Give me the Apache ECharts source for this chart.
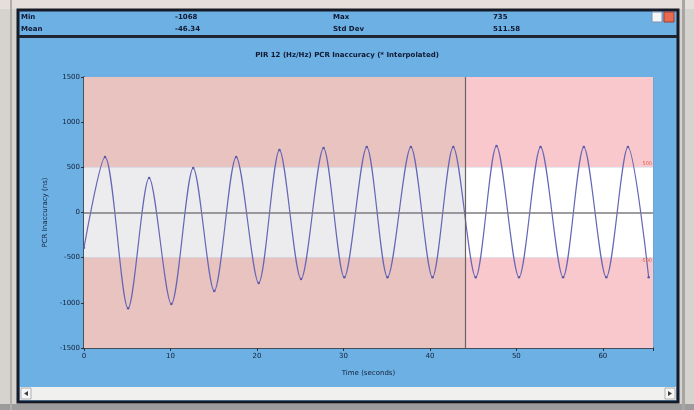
<!DOCTYPE html>
<html><head><meta charset="utf-8">
<script src="https://cdn.jsdelivr.net/npm/echarts@6/dist/echarts.min.js"></script>
<style>html,body{margin:0;padding:0;background:#d6d2ce;}#c{width:694px;height:410px;}</style>
</head><body><div id="c"></div>
<script>
// ---- data ----
const times  = [0, 2.43, 5.1, 7.53, 10.1, 12.63, 15.06, 17.6, 20.2, 22.6, 25.1, 27.7, 30.1, 32.7, 35.1, 37.8, 40.3, 42.7, 45.3, 47.7, 50.3, 52.8, 55.4, 57.8, 60.4, 62.9, 65.3];
const values = [-390, 614, -1060, 382, -1012, 492, -868, 614, -780, 691, -736, 713, -718, 724, -716, 724, -716, 724, -716, 735, -716, 724, -716, 724, -716, 724, -716];
const xTicks = [0, 10, 20, 30, 40, 50, 60];
const yTicks = [-1500, -1000, -500, 0, 500, 1000, 1500];
const upperLimit = 500, lowerLimit = -500;
const splitTime = 44.1;
const xMax = 65.8;
const stats = [["Min", "-1068", "Max", "735"], ["Mean", "-46.34", "Std Dev", "511.58"]];
const title = "PIR 12 (Hz/Hz) PCR Inaccuracy (* Interpolated)";

const chart = echarts.init(document.getElementById('c'), null, {renderer: 'canvas'});
const FONT = 'DejaVu Sans';
const graphics = [
  {type:'rect', shape:{x:0,y:0,width:694,height:9}, style:{fill:'#e6dedb'}, z:-10},
  {type:'rect', shape:{x:0,y:404,width:694,height:6}, style:{fill:'#9c9c9c'}, z:-10},
  {type:'rect', shape:{x:10,y:0,width:2,height:410}, style:{fill:'#b0aeac'}, z:-10},
  {type:'rect', shape:{x:682,y:0,width:3,height:410}, style:{fill:'#a8a6a4'}, z:-10},
  {type:'rect', shape:{x:18,y:10,width:660,height:392}, style:{fill:'#6cb0e4', stroke:'#161a26', lineWidth:3}, z:-9},
  {type:'rect', shape:{x:19,y:35,width:658,height:3}, style:{fill:'#1e2430'}, z:-8},
  {type:'rect', shape:{x:20,y:387,width:656,height:13}, style:{fill:'#f0f0ef'}, z:-8},
  {type:'rect', shape:{x:21,y:388,width:10,height:11}, style:{fill:'#f6f6f6', stroke:'#b0b0b0', lineWidth:1}, z:-7},
  {type:'rect', shape:{x:665,y:388,width:10,height:11}, style:{fill:'#f6f6f6', stroke:'#b0b0b0', lineWidth:1}, z:-7},
  {type:'polygon', shape:{points:[[28,391],[28,396],[24,393.5]]}, style:{fill:'#404040'}, z:-6},
  {type:'polygon', shape:{points:[[668,391],[668,396],[672,393.5]]}, style:{fill:'#404040'}, z:-6},
  {type:'rect', shape:{x:652,y:12,width:10,height:10}, style:{fill:'#f4f6fa', stroke:'#8090a8', lineWidth:1}, z:-7},
  {type:'rect', shape:{x:664,y:12,width:10,height:10}, style:{fill:'#e86a50', stroke:'#a04030', lineWidth:1}, z:-7},
  {type:'text', style:{text:title, x:347, y:55, textAlign:'center', textVerticalAlign:'middle', font:'bold 7px '+FONT, fill:'#101830'}, z:5}
];
const cols = [21, 175, 333, 493];
stats.forEach((row, r) => {
  row.forEach((t, c) => {
    graphics.push({type:'text', style:{text:t, x:cols[c], y:17 + r*12, textVerticalAlign:'middle', font:'bold 7px '+FONT, fill:'#101830'}, z:5});
  });
});

const bandArea = [
  [{xAxis:0, yAxis:upperLimit, itemStyle:{color:'#e9c3c0'}}, {xAxis:splitTime, yAxis:1500}],
  [{xAxis:0, yAxis:lowerLimit, itemStyle:{color:'#ececee'}}, {xAxis:splitTime, yAxis:upperLimit}],
  [{xAxis:0, yAxis:-1500, itemStyle:{color:'#e9c3c0'}}, {xAxis:splitTime, yAxis:lowerLimit}],
  [{xAxis:splitTime, yAxis:upperLimit, itemStyle:{color:'#f8c8cc'}}, {xAxis:xMax, yAxis:1500}],
  [{xAxis:splitTime, yAxis:lowerLimit, itemStyle:{color:'#ffffff'}}, {xAxis:xMax, yAxis:upperLimit}],
  [{xAxis:splitTime, yAxis:-1500, itemStyle:{color:'#f8c8cc'}}, {xAxis:xMax, yAxis:lowerLimit}]
];

chart.setOption({
  animation: false,
  backgroundColor: 'transparent',
  textStyle: {fontFamily: FONT},
  graphic: graphics,
  grid: {left: 84, right: 41, top: 77, bottom: 62, show: false},
  xAxis: {
    type: 'value', min: 0, max: xMax, interval: 10,
    name: 'Time (seconds)', nameLocation: 'middle', nameGap: 22,
    nameTextStyle: {fontSize: 7, color: '#14203a'},
    axisLine: {show: true, onZero: false, lineStyle: {color: '#303438', width: 1.5}},
    axisTick: {show: true, length: 3, lineStyle: {color: '#303438'}},
    axisLabel: {fontSize: 7, color: '#14203a', margin: 5, formatter: v => xTicks.includes(v) ? String(v) : ''},
    splitLine: {show: true, lineStyle: {color: 'rgba(150,110,110,0.18)', width: 1}}
  },
  yAxis: {
    type: 'value', min: -1500, max: 1500, interval: 500,
    name: 'PCR Inaccuracy (ns)', nameLocation: 'middle', nameGap: 28, nameRotate: 90,
    nameTextStyle: {fontSize: 7, color: '#14203a'},
    axisLine: {show: true, lineStyle: {color: '#303438', width: 1.5}},
    axisTick: {show: true, length: 3, lineStyle: {color: '#303438'}},
    axisLabel: {fontSize: 7, color: '#14203a', margin: 4, formatter: v => yTicks.includes(v) ? String(v) : ''},
    splitLine: {show: true, lineStyle: {color: 'rgba(150,110,110,0.22)', width: 1}}
  },
  series: [
    {
      type: 'line', name: 'bands', z: -1, data: [], silent: true,
      markArea: {silent: true, data: bandArea},
      markLine: {
        silent: true, symbol: 'none',
        data: [
          {yAxis: upperLimit, lineStyle: {color: 'rgba(0,0,0,0)'}, label: {show: true, position: 'insideEndTop', formatter: String(upperLimit), fontSize: 5, color: '#e06050', distance: 1}},
          {yAxis: lowerLimit, lineStyle: {color: 'rgba(0,0,0,0)'}, label: {show: true, position: 'insideEndBottom', formatter: String(lowerLimit), fontSize: 5, color: '#e06050', distance: 1}}
        ]
      }
    },
    {
      type: 'line', name: 'PCR', z: 3,
      data: times.map((t, i) => [t, values[i]]),
      smooth: 0.3,
      symbol: 'circle', symbolSize: 2.5, showSymbol: true,
      itemStyle: {color: '#5a5aa8'},
      lineStyle: {color: '#6666b6', width: 1.2},
      markLine: {
        silent: true, symbol: 'none', label: {show: false},
        data: [
          {yAxis: 0, lineStyle: {color: '#7c7c80', width: 1.5, type: 'solid'}},
          {xAxis: splitTime, lineStyle: {color: '#6a6264', width: 1.2, type: 'solid'}}
        ]
      }
    }
  ]
});
</script></body></html>
